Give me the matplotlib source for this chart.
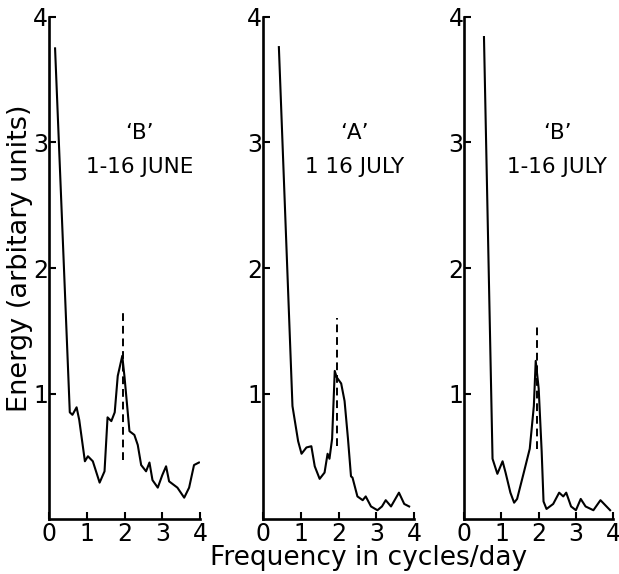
import matplotlib
matplotlib.use("Agg")
import matplotlib.pyplot as plt

plt.rcParams['font.family'] = ['DejaVu Sans']

# panel 1: 'B' 1-16 June
f1 = [0.16, 0.55, 0.62, 0.73, 0.80, 0.95, 1.03, 1.16, 1.34, 1.47, 1.55, 1.65, 1.74, 1.82, 1.94, 2.00,
      2.13, 2.26, 2.35, 2.44, 2.57, 2.66, 2.74, 2.88, 3.00, 3.10, 3.18, 3.40, 3.58, 3.71, 3.84, 3.97]
e1 = [3.75, 0.85, 0.83, 0.89, 0.79, 0.46, 0.50, 0.46, 0.29, 0.38, 0.81, 0.78, 0.85, 1.14, 1.30, 1.13,
      0.70, 0.67, 0.59, 0.43, 0.38, 0.45, 0.31, 0.25, 0.35, 0.42, 0.30, 0.25, 0.17, 0.25, 0.43, 0.45]

# panel 2: 'A' 1 16 July
f2 = [0.42, 0.78, 0.93, 1.02, 1.15, 1.28, 1.37, 1.50, 1.63, 1.71, 1.76, 1.83, 1.90, 1.95, 2.07,
      2.16, 2.25, 2.33, 2.37, 2.50, 2.64, 2.72, 2.86, 3.03, 3.15, 3.25, 3.39, 3.60, 3.74, 3.87]
e2 = [3.76, 0.90, 0.62, 0.52, 0.57, 0.58, 0.42, 0.32, 0.37, 0.52, 0.48, 0.64, 1.18, 1.13, 1.08,
      0.94, 0.64, 0.34, 0.33, 0.18, 0.15, 0.18, 0.10, 0.07, 0.10, 0.15, 0.10, 0.21, 0.12, 0.10]

# panel 3: 'B' 1-16 July
f3 = [0.53, 0.76, 0.89, 1.03, 1.11, 1.24, 1.34, 1.42, 1.60, 1.76, 1.87, 1.92, 2.00, 2.08,
      2.13, 2.21, 2.39, 2.55, 2.66, 2.74, 2.87, 3.00, 3.13, 3.26, 3.47, 3.66, 3.79, 3.92]
e3 = [3.84, 0.48, 0.36, 0.46, 0.37, 0.21, 0.13, 0.16, 0.37, 0.56, 0.90, 1.26, 1.04, 0.54,
      0.14, 0.08, 0.12, 0.21, 0.18, 0.21, 0.10, 0.07, 0.16, 0.10, 0.07, 0.15, 0.11, 0.07]

labels = ["\u2018B\u2019\n1-16 JUNE", "\u2018A\u2019\n1 16 JULY", "\u2018B\u2019\n1-16 JULY"]
peak_x = [1.97, 1.95, 1.95]
peak_top = [1.65, 1.60, 1.56]
peak_bottom = [0.47, 0.58, 0.56]

ticks = [0, 1, 2, 3, 4]

fig = plt.figure(figsize=(6.19, 5.74), dpi=100)
boxes = [(0.0792, 0.2440), (0.4249, 0.2440), (0.7500, 0.2405)]
label_pos = [(0.60, 0.735), (0.605, 0.735), (0.625, 0.735)]

for i, (f, e) in enumerate([(f1, e1), (f2, e2), (f3, e3)]):
    ax = fig.add_axes([boxes[i][0], 0.0958, boxes[i][1], 0.8746])
    ax.plot(f, e, color='black', lw=1.5)
    ax.plot([peak_x[i], peak_x[i]], [peak_bottom[i], peak_top[i]], color='black',
            lw=1.4, dashes=(4, 2.5))
    ax.set_xlim(0, 4)
    ax.set_ylim(0, 4)
    ax.spines['top'].set_visible(False)
    ax.spines['right'].set_visible(False)
    ax.spines['left'].set_linewidth(1.9)
    ax.spines['bottom'].set_linewidth(1.9)
    ax.set_xticks(ticks)
    ax.set_yticks([1, 2, 3, 4])
    ax.set_yticklabels(['1', '2', '3', '4'])
    ax.tick_params(direction='in', length=5, width=1.5, labelsize=17, pad=2.5)
    ax.tick_params(axis='y', pad=0.5)
    ax.text(label_pos[i][0], label_pos[i][1], labels[i], transform=ax.transAxes,
            ha='center', va='center', fontsize=15.5, linespacing=1.85)

fig.text(0.033, 0.55, "Energy (arbitary units)", rotation=90, ha='center', va='center',
         fontsize=19.5)
fig.text(0.596, 0.0157, "Frequency in cycles/day", ha='center', va='baseline', fontsize=19)

fig.savefig("out.png", dpi=100)
